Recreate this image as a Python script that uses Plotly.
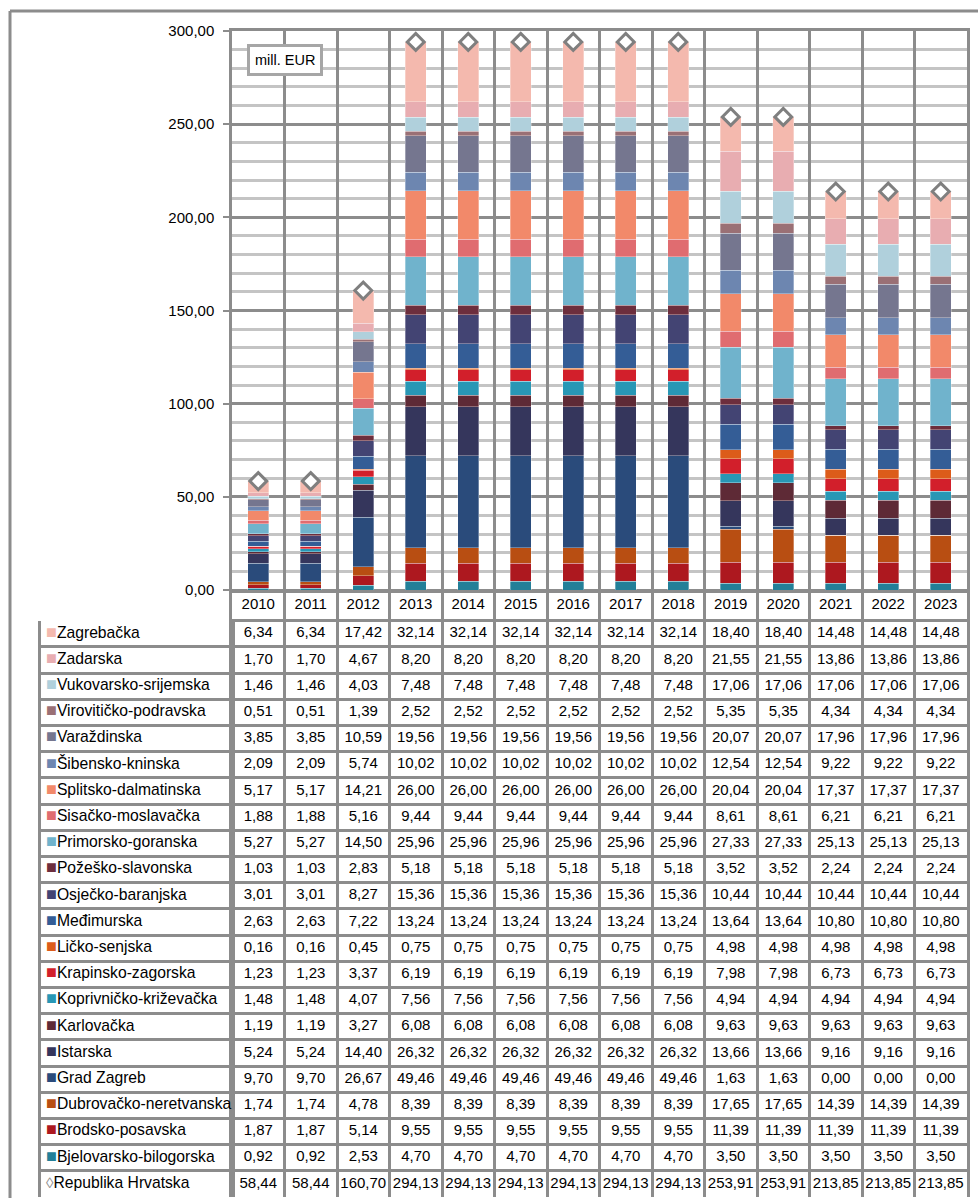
import plotly.graph_objects as go

W, H = 978, 1198

years = ["2010", "2011", "2012", "2013", "2014", "2015", "2016", "2017", "2018",
         "2019", "2020", "2021", "2022", "2023"]

# stacking order: bottom -> top
bjelovarsko = [0.92, 0.92, 2.53, 4.70, 4.70, 4.70, 4.70, 4.70, 4.70, 3.50, 3.50, 3.50, 3.50, 3.50]
brodsko = [1.87, 1.87, 5.14, 9.55, 9.55, 9.55, 9.55, 9.55, 9.55, 11.39, 11.39, 11.39, 11.39, 11.39]
dubrovacko = [1.74, 1.74, 4.78, 8.39, 8.39, 8.39, 8.39, 8.39, 8.39, 17.65, 17.65, 14.39, 14.39, 14.39]
grad_zagreb = [9.70, 9.70, 26.67, 49.46, 49.46, 49.46, 49.46, 49.46, 49.46, 1.63, 1.63, 0.00, 0.00, 0.00]
istarska = [5.24, 5.24, 14.40, 26.32, 26.32, 26.32, 26.32, 26.32, 26.32, 13.66, 13.66, 9.16, 9.16, 9.16]
karlovacka = [1.19, 1.19, 3.27, 6.08, 6.08, 6.08, 6.08, 6.08, 6.08, 9.63, 9.63, 9.63, 9.63, 9.63]
koprivnicko = [1.48, 1.48, 4.07, 7.56, 7.56, 7.56, 7.56, 7.56, 7.56, 4.94, 4.94, 4.94, 4.94, 4.94]
krapinsko = [1.23, 1.23, 3.37, 6.19, 6.19, 6.19, 6.19, 6.19, 6.19, 7.98, 7.98, 6.73, 6.73, 6.73]
licko = [0.16, 0.16, 0.45, 0.75, 0.75, 0.75, 0.75, 0.75, 0.75, 4.98, 4.98, 4.98, 4.98, 4.98]
medimurska = [2.63, 2.63, 7.22, 13.24, 13.24, 13.24, 13.24, 13.24, 13.24, 13.64, 13.64, 10.80, 10.80, 10.80]
osjecko = [3.01, 3.01, 8.27, 15.36, 15.36, 15.36, 15.36, 15.36, 15.36, 10.44, 10.44, 10.44, 10.44, 10.44]
pozesko = [1.03, 1.03, 2.83, 5.18, 5.18, 5.18, 5.18, 5.18, 5.18, 3.52, 3.52, 2.24, 2.24, 2.24]
primorsko = [5.27, 5.27, 14.50, 25.96, 25.96, 25.96, 25.96, 25.96, 25.96, 27.33, 27.33, 25.13, 25.13, 25.13]
sisacko = [1.88, 1.88, 5.16, 9.44, 9.44, 9.44, 9.44, 9.44, 9.44, 8.61, 8.61, 6.21, 6.21, 6.21]
splitsko = [5.17, 5.17, 14.21, 26.00, 26.00, 26.00, 26.00, 26.00, 26.00, 20.04, 20.04, 17.37, 17.37, 17.37]
sibensko = [2.09, 2.09, 5.74, 10.02, 10.02, 10.02, 10.02, 10.02, 10.02, 12.54, 12.54, 9.22, 9.22, 9.22]
varazdinska = [3.85, 3.85, 10.59, 19.56, 19.56, 19.56, 19.56, 19.56, 19.56, 20.07, 20.07, 17.96, 17.96, 17.96]
viroviticko = [0.51, 0.51, 1.39, 2.52, 2.52, 2.52, 2.52, 2.52, 2.52, 5.35, 5.35, 4.34, 4.34, 4.34]
vukovarsko = [1.46, 1.46, 4.03, 7.48, 7.48, 7.48, 7.48, 7.48, 7.48, 17.06, 17.06, 17.06, 17.06, 17.06]
zadarska = [1.70, 1.70, 4.67, 8.20, 8.20, 8.20, 8.20, 8.20, 8.20, 21.55, 21.55, 13.86, 13.86, 13.86]
zagrebacka = [6.34, 6.34, 17.42, 32.14, 32.14, 32.14, 32.14, 32.14, 32.14, 18.40, 18.40, 14.48, 14.48, 14.48]
republika = [58.44, 58.44, 160.70, 294.13, 294.13, 294.13, 294.13, 294.13, 294.13,
             253.91, 253.91, 213.85, 213.85, 213.85]

series = [
    ("Bjelovarsko-bilogorska", bjelovarsko, "#237f98"),
    ("Brodsko-posavska", brodsko, "#ad181f"),
    ("Dubrovačko-neretvanska", dubrovacko, "#b84e12"),
    ("Grad Zagreb", grad_zagreb, "#2a4b7b"),
    ("Istarska", istarska, "#35365c"),
    ("Karlovačka", karlovacka, "#5e2a36"),
    ("Koprivničko-križevačka", koprivnicko, "#2897b5"),
    ("Krapinsko-zagorska", krapinsko, "#d21f2b"),
    ("Ličko-senjska", licko, "#dc5c1a"),
    ("Međimurska", medimurska, "#345d96"),
    ("Osječko-baranjska", osjecko, "#434473"),
    ("Požeško-slavonska", pozesko, "#6d2e3d"),
    ("Primorsko-goranska", primorsko, "#70b3cc"),
    ("Sisačko-moslavačka", sisacko, "#e06c70"),
    ("Splitsko-dalmatinska", splitsko, "#f2896a"),
    ("Šibensko-kninska", sibensko, "#6d86b0"),
    ("Varaždinska", varazdinska, "#75768f"),
    ("Virovitičko-podravska", viroviticko, "#9a7075"),
    ("Vukovarsko-srijemska", vukovarsko, "#b0d0dc"),
    ("Zadarska", zadarska, "#e8adb1"),
    ("Zagrebačka", zagrebacka, "#f4b9ae"),
]
total_name = "Republika Hrvatska"

GRID_DARK = "#8c8c8c"
GRID_LIGHT = "#c4c4c4"
FONT = "Liberation Sans, Arial, sans-serif"
TFS = 15      # table number font size
NFS = 15.7    # table name font size

def px_x(p):
    return p / W

def px_y(p):
    return 1 - p / H

# pixel layout
PLOT_L, PLOT_R, PLOT_T, PLOT_B = 232, 967, 31, 590
TAB_L, TAB_B, ROW_H = 41, 1197, 26.2
N_ROWS = len(series) + 1
ROWS_T = TAB_B - N_ROWS * ROW_H
HDR = (ROWS_T - PLOT_B) / ROW_H  # header height in row units

fig = go.Figure()

for name, vals, col in series:
    fig.add_trace(go.Bar(
        x=years, y=vals, name=name,
        marker=dict(color=col, line=dict(color="rgba(255,255,255,0.45)", width=0.7)),
        xaxis="x", yaxis="y", showlegend=False, hoverinfo="skip",
    ))

fig.add_trace(go.Scatter(
    x=years, y=republika, mode="markers", name=total_name,
    marker=dict(symbol="diamond", size=13, color="white",
                line=dict(color="#7f7f7f", width=3)),
    cliponaxis=False, showlegend=False, hoverinfo="skip",
))

def fmt(v):
    return f"{v:.2f}".replace(".", ",")

# ---- data table below the chart ----
rows = [(n, v, c, "■", 18) for n, v, c in reversed(series)]
rows.append((total_name, republika, "#8c8c8c", "◊", 15))

# header with years
fig.add_trace(go.Scatter(
    x=years, y=[-HDR / 2] * len(years), text=years, mode="text",
    textfont=dict(family=FONT, size=TFS, color="black"),
    xaxis="x", yaxis="y2", showlegend=False, hoverinfo="skip", cliponaxis=False,
))

for k, (name, vals, col, glyph, gs) in enumerate(rows):
    fig.add_trace(go.Scatter(
        x=years, y=[k + 0.5] * len(years), text=[fmt(v) for v in vals],
        mode="text", textfont=dict(family=FONT, size=TFS, color="black"),
        xaxis="x", yaxis="y2", showlegend=False, hoverinfo="skip", cliponaxis=False,
    ))

labels = [f"<span style='color:{c};font-size:{gs}px'>{g}</span>{n}"
          for n, _, c, g, gs in rows]
fig.add_trace(go.Scatter(
    x=[0] * len(rows), y=[k + 0.5 for k in range(len(rows))], text=labels,
    mode="text", textposition="middle right",
    textfont=dict(family=FONT, size=NFS, color="black"),
    xaxis="x3", yaxis="y3", showlegend=False, hoverinfo="skip", cliponaxis=False,
))

grid_vals = list(range(0, N_ROWS + 1))

fig.update_layout(
    width=W, height=H,
    margin=dict(l=0, r=0, t=0, b=0),
    paper_bgcolor="white", plot_bgcolor="white",
    barmode="stack", bargap=0.6,
    separators=", ",
    font=dict(family=FONT, size=15, color="black"),
    xaxis=dict(
        domain=[px_x(PLOT_L), px_x(PLOT_R)], anchor="y",
        type="category", tickson="boundaries",
        range=[-0.5, len(years) - 0.5],
        showgrid=True, gridcolor=GRID_DARK, gridwidth=2.5,
        showticklabels=False, ticks="",
        showline=True, linecolor=GRID_DARK, linewidth=2.5, mirror=True,
        automargin=False, fixedrange=True,
    ),
    yaxis=dict(
        domain=[px_y(PLOT_B), px_y(PLOT_T)], anchor="x",
        range=[0, 300], dtick=50, tickformat=".2f",
        showgrid=True, gridcolor=GRID_DARK, gridwidth=2.5,
        zeroline=True, zerolinecolor=GRID_DARK, zerolinewidth=2.5,
        minor=dict(dtick=10, showgrid=True, gridcolor=GRID_LIGHT, gridwidth=2.5, ticks=""),
        ticks="outside", ticklen=6, tickwidth=2, tickcolor=GRID_DARK,
        ticklabelstandoff=6,
        showline=True, linecolor=GRID_DARK, linewidth=2.5, mirror=True,
        tickfont=dict(family=FONT, size=15, color="black"),
        automargin=False, fixedrange=True,
    ),
    yaxis2=dict(
        domain=[px_y(TAB_B), px_y(PLOT_B)], anchor="x",
        range=[N_ROWS, -HDR], tickmode="array", tickvals=grid_vals,
        showticklabels=False, ticks="", zeroline=False,
        showgrid=True, gridcolor=GRID_DARK, gridwidth=2.5,
        showline=True, linecolor=GRID_DARK, linewidth=2.5, mirror=True,
        automargin=False, fixedrange=True,
    ),
    xaxis3=dict(
        domain=[px_x(TAB_L), px_x(PLOT_L)], anchor="y3",
        range=[-5, PLOT_L - TAB_L - 5],
        showgrid=False, showticklabels=False, ticks="", zeroline=False,
        showline=False, automargin=False, fixedrange=True,
    ),
    yaxis3=dict(
        domain=[px_y(TAB_B), px_y(ROWS_T)], anchor="x3",
        range=[N_ROWS, 0], tickmode="array", tickvals=grid_vals,
        showticklabels=False, ticks="", zeroline=False,
        showgrid=True, gridcolor=GRID_DARK, gridwidth=2.5,
        showline=True, linecolor=GRID_DARK, linewidth=2.5, mirror=True,
        automargin=False, fixedrange=True,
    ),
    annotations=[dict(
        text="mill. EUR", xref="paper", yref="paper",
        x=px_x(284.5), y=px_y(60), xanchor="center", yanchor="middle",
        showarrow=False, bgcolor="white", bordercolor="#a6a6a6",
        borderwidth=3, borderpad=5,
        font=dict(family=FONT, size=14.5, color="black"),
    )],
    shapes=[
        dict(type="line", xref="paper", yref="paper",
             x0=px_x(10), x1=1.0, y0=px_y(11), y1=px_y(11),
             line=dict(color=GRID_DARK, width=3)),
        dict(type="line", xref="paper", yref="paper",
             x0=px_x(10), x1=px_x(10), y0=px_y(11), y1=0,
             line=dict(color=GRID_DARK, width=3)),
    ],
)

fig.write_html(
    "out.html",
    config={"displayModeBar": False},
    post_script="document.body.style.margin='0px';document.body.style.overflow='hidden';",
)
